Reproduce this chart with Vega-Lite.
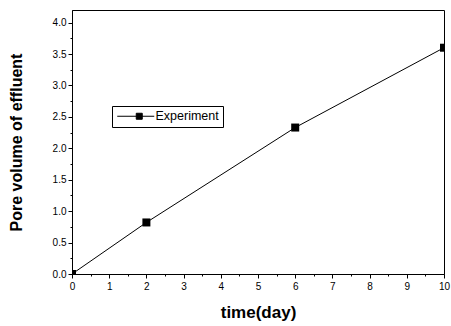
{
  "$schema": "https://vega.github.io/schema/vega-lite/v6.json",
  "autosize": {"type": "none"},
  "width": 372,
  "height": 264,
  "padding": {"left": 72, "top": 10, "right": 7, "bottom": 52},
  "background": "white",
  "config": {
    "view": {"stroke": "black", "strokeWidth": 1},
    "font": "Liberation Sans",
    "axis": {
      "domainColor": "black",
      "domainWidth": 1,
      "tickColor": "black",
      "tickWidth": 1,
      "labelColor": "black",
      "labelFont": "Liberation Sans",
      "labelFontSize": 10,
      "titleFont": "Liberation Sans",
      "titleFontSize": 16,
      "titleFontWeight": "bold",
      "titleColor": "black",
      "grid": false
    }
  },
  "data": {
    "values": [
      {"time": 0, "pv": 0.0, "series": "Experiment"},
      {"time": 2, "pv": 0.82, "series": "Experiment"},
      {"time": 6, "pv": 2.33, "series": "Experiment"},
      {"time": 10, "pv": 3.6, "series": "Experiment"}
    ]
  },
  "encoding": {
    "x": {
      "field": "time",
      "type": "quantitative",
      "scale": {"domain": [0, 10], "nice": false, "zero": false},
      "axis": {
        "title": "time(day)",
        "titleFontSize": 17,
        "values": [0, 0.5, 1, 1.5, 2, 2.5, 3, 3.5, 4, 4.5, 5, 5.5, 6, 6.5, 7, 7.5, 8, 8.5, 9, 9.5, 10],
        "labelExpr": "datum.value % 1 === 0 ? format(datum.value, 'd') : ''",
        "tickSize": {"condition": {"test": "datum.value % 1 === 0", "value": 4}, "value": 2},
        "labelPadding": 3,
        "labelFlush": false,
        "labelOverlap": false,
        "titlePadding": 13
      }
    },
    "y": {
      "field": "pv",
      "type": "quantitative",
      "scale": {"domain": [0, 4.2], "nice": false, "zero": false},
      "axis": {
        "title": "Pore volume of effluent",
        "values": [0, 0.25, 0.5, 0.75, 1, 1.25, 1.5, 1.75, 2, 2.25, 2.5, 2.75, 3, 3.25, 3.5, 3.75, 4],
        "labelExpr": "datum.value % 0.5 === 0 ? format(datum.value, '.1f') : ''",
        "tickSize": {"condition": {"test": "datum.value % 0.5 === 0", "value": 4}, "value": 2},
        "labelPadding": 2,
        "labelFlush": false,
        "labelOverlap": false,
        "titlePadding": 28
      }
    },
    "color": {
      "field": "series",
      "type": "nominal",
      "scale": {"range": ["black"]},
      "legend": {
        "title": null,
        "orient": "none",
        "legendX": 40,
        "legendY": 96,
        "strokeColor": "black",
        "fillColor": "white",
        "padding": 4,
        "symbolType": "M-1.67,0H10.67M4.67,-1H6.67V1H4.67Z",
        "symbolSize": 36,
        "symbolFillColor": "black",
        "symbolStrokeColor": "black",
        "symbolStrokeWidth": 1,
        "labelOffset": 27,
        "labelFont": "Liberation Sans",
        "labelFontSize": 12.5,
        "labelColor": "black",
        "labelExpr": "datum.label + '\u00a0\u00a0\u00a0\u00a0'"
      }
    }
  },
  "layer": [
    {"mark": {"type": "line", "strokeWidth": 1, "clip": true}},
    {"mark": {"type": "point", "shape": "square", "filled": true, "size": 64, "opacity": 1, "clip": true}}
  ]
}
